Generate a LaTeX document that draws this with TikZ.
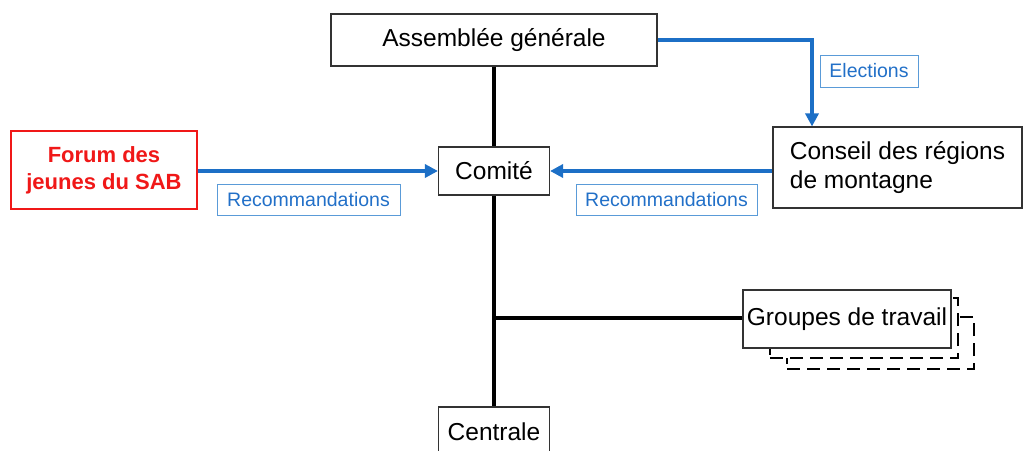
\documentclass[tikz,border=0pt]{standalone}
\usepackage{fontspec}
\setmainfont{Liberation Sans}
\usetikzlibrary{arrows.meta}
\definecolor{arrowblue}{HTML}{1C6FC6}
\definecolor{lblborder}{HTML}{5A9BD8}
\definecolor{lbltext}{HTML}{2270C8}
\definecolor{forumred}{HTML}{F01818}
\begin{document}
\begin{tikzpicture}[x=1pt,y=-1pt,
  orgbox/.style={draw=black!80,line width=1.1pt,fill=white,inner sep=0pt,
    font=\fontsize{24.5}{29}\selectfont,align=center},
  redbox/.style={draw=forumred,line width=1.3pt,fill=white,inner sep=0pt,
    text=forumred,font=\fontsize{22}{27}\selectfont\bfseries,align=center},
  lbl/.style={draw=lblborder,line width=0.9pt,fill=white,inner sep=0pt,
    text=lbltext,font=\fontsize{19.5}{22}\selectfont},
  ghost/.style={draw=black,line width=1.3pt,dash pattern=on 13pt off 7pt,fill=white},
  trunk/.style={line width=3.5pt,black},
  flow/.style={line width=3.5pt,arrowblue,-{Triangle[length=13pt,width=13pt]}}
]
\useasboundingbox (0,0) rectangle (1033,450);

% shadow boxes of Groupes de travail
\node[ghost,minimum width=187pt,minimum height=52pt] (g3) at (880.5,343) {};
\node[ghost,minimum width=188pt,minimum height=60pt] (g2) at (864,328) {};

% nodes
\node[orgbox,minimum width=326pt,minimum height=52pt] (ag) at (494,40) {Assemblée générale};
\node[orgbox,minimum width=111pt,minimum height=50pt] (ce) at (494,432) {Centrale};
\coordinate (branch) at (494,318);

% trunk line (drawn before inner boxes)
\draw[trunk] (ag.south) -- (ce.north);

\node[orgbox,minimum width=111pt,minimum height=48pt] (co) at (494,171) {Comité};
\node[orgbox,minimum width=208pt,minimum height=58pt] (gt) at (847,319) {Groupes de travail};
\draw[trunk] (branch) -- (branch -| gt.west);

\node[redbox,minimum width=186pt,minimum height=78pt] (fj) at (104,170) {Forum des\\jeunes du SAB};
\node[orgbox,minimum width=249pt,minimum height=81pt,align=left] (cr) at (897.5,167.5) {Conseil des régions\\de montagne};

% blue flows
\draw[flow] (ag.east) -| ([xshift=-85.5pt]cr.north);
\draw[flow] (fj.east |- co.west) -- (co.west);
\draw[flow] (cr.west |- co.east) -- (co.east);

% labels
\node[lbl,minimum width=98pt,minimum height=32pt] (lel) at (869,71) {Elections};
\node[lbl,minimum width=183pt,minimum height=31pt] (lr1) at (308.5,199.5) {Recommandations};
\node[lbl,minimum width=181pt,minimum height=31pt] (lr2) at (666.5,199.5) {Recommandations};
\end{tikzpicture}
\end{document}
